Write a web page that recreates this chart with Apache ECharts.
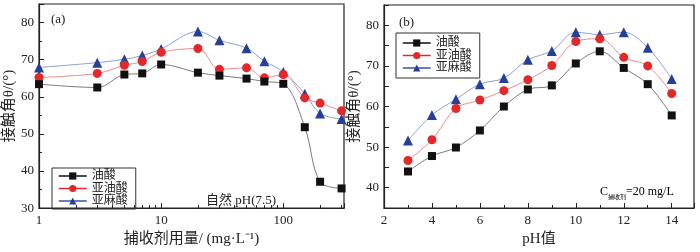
<!DOCTYPE html>
<html><head><meta charset="utf-8">
<script src="https://cdn.jsdelivr.net/npm/echarts@6/dist/echarts.min.js"></script>
<style>html,body{margin:0;padding:0;background:#fff}#c{width:700px;height:252px}</style>
</head><body><div id="c"></div>
<script>
// Chart (a): collector dosage (mg/L) vs contact angle
const dosage = [1, 3, 5, 7, 10, 20, 30, 50, 70, 100, 150, 200, 300];
const aOleic = [63.4, 62.5, 66.0, 66.3, 68.7, 66.5, 65.7, 64.9, 64.1, 63.5, 51.8, 37.1, 35.3];
const aLinoleic = [65.2, 66.3, 68.5, 69.5, 72.0, 73.0, 67.4, 67.8, 65.1, 66.0, 59.7, 58.3, 56.2];
const aLinolenic = [67.9, 69.2, 70.1, 71.1, 72.9, 77.6, 75.2, 73.1, 69.6, 66.7, 60.8, 55.5, 54.0];
// Chart (b): pH vs contact angle
const pH = [3, 4, 5, 6, 7, 8, 9, 10, 11, 12, 13, 14];
const bOleic = [44.0, 47.8, 49.9, 54.1, 60.0, 64.2, 65.2, 70.6, 73.6, 69.5, 65.5, 57.8];
const bLinoleic = [46.7, 51.8, 59.5, 61.6, 63.9, 66.6, 70.1, 76.0, 76.7, 72.1, 70.0, 63.2];
const bLinolenic = [51.6, 57.9, 61.8, 65.5, 67.0, 71.5, 73.7, 78.3, 77.7, 78.3, 74.5, 66.8];
const names = ['油酸', '亚油酸', '亚麻酸'];

const FONT = '"Liberation Serif", "Noto Sans CJK SC", serif';
const styles = [
  {symbol: 'rect', size: 8, item: '#111111', line: '#7a7a7a', dark: '#111111'},
  {symbol: 'circle', size: 9, item: '#e3282c', line: '#f08a8a', dark: '#e3282c'},
  {symbol: 'triangle', size: 10, item: '#283f98', line: '#8c9fd6', dark: '#3a52a8'}
];
function mk(name, xs, ys, idx, k) {
  const s = styles[k];
  return {
    name: name, type: 'line', smooth: 0.35, xAxisIndex: idx, yAxisIndex: idx,
    data: xs.map((x, i) => [x, ys[i]]),
    symbol: s.symbol, symbolSize: s.size,
    itemStyle: {color: s.item},
    lineStyle: {color: s.line, width: 1},
    z: 3 - k
  };
}
const legendData = names.map((n, k) => ({name: n, lineStyle: {color: styles[k].dark, width: 1.5}}));
const axisLine = {show: true, lineStyle: {color: '#222', width: 1.2}};
const axisTick = {show: true, inside: true, length: 5, lineStyle: {color: '#222'}};
const minorTick = {show: true, splitNumber: 2, length: 3, lineStyle: {color: '#222'}};
const lab = {color: '#222', fontFamily: FONT, fontSize: 13};
const legendText = {fontFamily: FONT, fontSize: 12, color: '#222', lineHeight: 12};

const chart = echarts.init(document.getElementById('c'), null, {renderer: 'canvas'});
chart.setOption({
  animation: false,
  textStyle: {fontFamily: FONT},
  grid: [
    {left: 39, top: 4, width: 305, height: 217, show: true, borderColor: '#222', borderWidth: 1.2},
    {left: 384, top: 5, width: 310, height: 214, show: true, borderColor: '#222', borderWidth: 1.2}
  ],
  xAxis: [
    {type: 'log', gridIndex: 0, min: 1, max: 314, logBase: 10,
     axisLine, axisTick, minorTick: {show: true, splitNumber: 9, length: 3, lineStyle: {color: '#222'}},
     splitLine: {show: false},
     axisLabel: Object.assign({}, lab, {showMaxLabel: false, margin: 6}),
     name: '捕收剂用量/ (mg·L⁻¹)', nameLocation: 'middle', nameGap: 22,
     nameTextStyle: {fontFamily: FONT, fontSize: 15, color: '#222'}},
    {type: 'value', gridIndex: 1, min: 2, max: 14.93, interval: 2,
     axisLine, axisTick, minorTick, splitLine: {show: false},
     axisLabel: Object.assign({}, lab, {showMaxLabel: false, margin: 6}),
     name: 'pH值', nameLocation: 'middle', nameGap: 24,
     nameTextStyle: {fontFamily: FONT, fontSize: 15, color: '#222'}}
  ],
  yAxis: [
    {type: 'value', gridIndex: 0, min: 30, max: 85, interval: 10,
     axisLine, axisTick, minorTick, splitLine: {show: false},
     axisLabel: Object.assign({}, lab, {showMaxLabel: false, margin: 5}),
     name: '接触角θ/(°)', nameLocation: 'middle', nameGap: 22, nameRotate: 90,
     nameTextStyle: {fontFamily: FONT, fontSize: 15, color: '#222'}},
    {type: 'value', gridIndex: 1, min: 35, max: 85, interval: 5,
     axisLine, axisTick, splitLine: {show: false},
     axisLabel: Object.assign({}, lab, {margin: 5, formatter: v => (v % 10 === 0 ? String(v) : '')}),
     name: '接触角θ/(°)', nameLocation: 'middle', nameGap: 22, nameRotate: 90,
     nameTextStyle: {fontFamily: FONT, fontSize: 15, color: '#222'}}
  ],
  legend: [
    {left: 52, top: 168, orient: 'vertical', itemGap: 0.5, itemWidth: 28, itemHeight: 9,
     padding: [2, 8, 2, 6], borderColor: '#333', borderWidth: 1, data: legendData,
     textStyle: legendText},
    {left: 396, top: 33, orient: 'vertical', itemGap: 0.5, itemWidth: 28, itemHeight: 9,
     padding: [4, 8, 4, 6], borderColor: '#333', borderWidth: 1, data: legendData,
     textStyle: legendText}
  ],
  graphic: [
    {type: 'text', left: 51, top: 13, style: {text: '(a)', font: '13px ' + FONT, fill: '#222'}},
    {type: 'text', left: 206, top: 194, style: {text: '自然 pH(7.5)', font: '13px ' + FONT, fill: '#222'}},
    {type: 'text', left: 399, top: 16, style: {text: '(b)', font: '13px ' + FONT, fill: '#222'}},
    {type: 'text', left: 600, top: 186, style: {
      rich: {
        c: {fontFamily: FONT, fontSize: 12, color: '#222', lineHeight: 16},
        s: {fontFamily: FONT, fontSize: 6, color: '#222', verticalAlign: 'bottom', lineHeight: 10, padding: [8, 0, 0, 0]}
      },
      text: '{c|C}{s|捕收剂}{c|=20 mg/L}'
    }}
  ],
  series: [
    mk(names[0], dosage, aOleic, 0, 0),
    mk(names[1], dosage, aLinoleic, 0, 1),
    mk(names[2], dosage, aLinolenic, 0, 2),
    mk(names[0], pH, bOleic, 1, 0),
    mk(names[1], pH, bLinoleic, 1, 1),
    mk(names[2], pH, bLinolenic, 1, 2)
  ]
});
</script></body></html>
